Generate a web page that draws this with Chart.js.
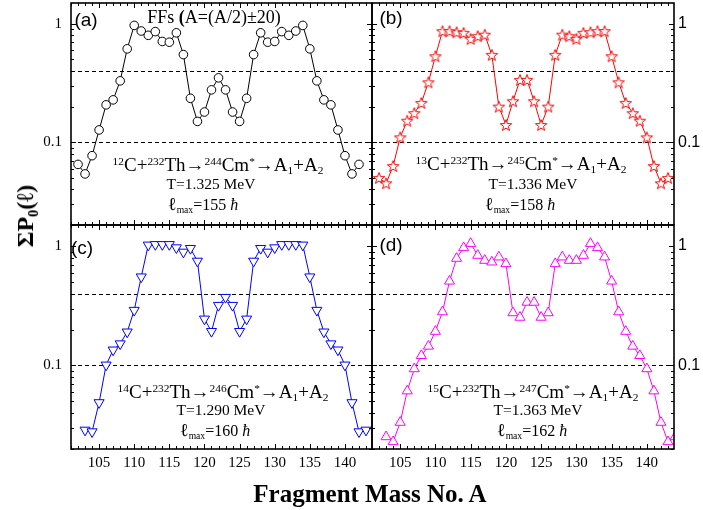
<!DOCTYPE html>
<html>
<head>
<meta charset="utf-8">
<script src="https://cdn.jsdelivr.net/npm/chart.js@4.4.1/dist/chart.umd.min.js"></script>
<style>
  body { margin: 0; background: #fff; }
  #wrap { position: relative; width: 703px; height: 510px; overflow: hidden; background: #fff; font-family: "Liberation Serif", serif; color: #000; }
  canvas { position: absolute; left: 0; top: 0; }
  .t { position: absolute; white-space: nowrap; transform: translate(-50%, -50%); line-height: 1; }
  .t sup { font-size: 0.6em; vertical-align: 0.5em; line-height: 0; }
  .t sub { font-size: 0.6em; vertical-align: -0.35em; line-height: 0; }
  .tag { font-family: "Liberation Sans", sans-serif; font-size: 19px; }
  .react { font-size: 19px; }
  .temp { font-size: 15.5px; }
  .lmax { font-size: 16px; }
  .lmax .ell { font-size: 1.15em; }
  .ytitle { font-size: 24px; font-weight: bold; transform: translate(-50%, -50%) rotate(-90deg); }
  .xtitle { font-size: 25px; font-weight: bold; }
  .note { font-size: 18px; }
</style>
</head>
<body>
<div id="wrap">
  <canvas id="panel-a" width="703" height="510"></canvas>
  <canvas id="panel-b" width="703" height="510"></canvas>
  <canvas id="panel-c" width="703" height="510"></canvas>
  <canvas id="panel-d" width="703" height="510"></canvas>
</div>
<script>
// fragment masses and summed probabilities
const massA = [102, 103, 104, 105, 106, 107, 108, 109, 110, 111, 112, 113, 114, 115, 116, 117, 118, 119, 120, 121, 122,
  123, 124, 125, 126, 127, 128, 129, 130, 131, 132, 133, 134, 135, 136, 137, 138, 139, 140, 141, 142]
const valuesA = [0.065, 0.054, 0.077, 0.127, 0.207, 0.228, 0.33, 0.615, 0.97, 0.87, 0.80, 0.86, 0.71, 0.70, 0.84, 0.55,
  0.235, 0.15, 0.18, 0.277, 0.35, 0.277, 0.18, 0.15, 0.235, 0.55, 0.84, 0.70, 0.71, 0.86, 0.80, 0.87, 0.97, 0.615,
  0.33, 0.228, 0.207, 0.127, 0.077, 0.054, 0.065]

const massB = [102, 103, 104, 105, 106, 107, 108, 109, 110, 111, 112, 113, 114, 115, 116, 117, 118, 119, 120, 121, 122,
  123, 124, 125, 126, 127, 128, 129, 130, 131, 132, 133, 134, 135, 136, 137, 138, 139, 140, 141, 142, 143]
const valuesB = [0.050, 0.045, 0.063, 0.110, 0.152, 0.176, 0.215, 0.321, 0.533, 0.867, 0.867, 0.85, 0.84, 0.747, 0.787,
  0.81, 0.547, 0.20, 0.14, 0.222, 0.336, 0.336, 0.222, 0.14, 0.20, 0.547, 0.81, 0.787, 0.747, 0.84, 0.85, 0.867, 0.867,
  0.533, 0.321, 0.215, 0.176, 0.152, 0.110, 0.063, 0.045, 0.050]

const massC = [103, 104, 105, 106, 107, 108, 109, 110, 111, 112, 113, 114, 115, 116, 117, 118, 119, 120, 121, 122, 123,
  124, 125, 126, 127, 128, 129, 130, 131, 132, 133, 134, 135, 136, 137, 138, 139, 140, 141, 142, 143]
const valuesC = [0.0288, 0.0279, 0.0489, 0.101, 0.135, 0.152, 0.191, 0.290, 0.552, 1.02, 1.03, 1.03, 1.03, 0.968, 0.89,
  0.956, 0.748, 0.245, 0.193, 0.319, 0.372, 0.319, 0.193, 0.245, 0.748, 0.956, 0.89, 0.968, 1.03, 1.03, 1.03, 1.02,
  0.552, 0.290, 0.191, 0.152, 0.135, 0.101, 0.0489, 0.0279, 0.0288]

const massD = [103, 104, 105, 106, 107, 108, 109, 110, 111, 112, 113, 114, 115, 116, 117, 118, 119, 120, 121, 122, 123,
  124, 125, 126, 127, 128, 129, 130, 131, 132, 133, 134, 135, 136, 137, 138, 139, 140, 141, 142, 143, 144]
const valuesD = [0.0253, 0.0230, 0.0334, 0.0612, 0.0938, 0.121, 0.145, 0.193, 0.281, 0.508, 0.788, 0.968, 1.05, 0.835,
  0.758, 0.734, 0.809, 0.711, 0.276, 0.253, 0.338, 0.338, 0.253, 0.276, 0.711, 0.809, 0.758, 0.758, 0.835, 1.05, 0.968,
  0.809, 0.508, 0.281, 0.193, 0.145, 0.121, 0.0938, 0.0612, 0.0334, 0.0230, 0.0253]

// axes
const xMin = 101
const xMax = 143.85
const yMin = 0.02
const yMax = 1.5
const xTickLabels = [105, 110, 115, 120, 125, 130, 135, 140]
const yTickLabels = [0.1, 1]
const yMinorTicks = [0.02, 0.03, 0.04, 0.05, 0.06, 0.07, 0.08, 0.09, 0.2, 0.3, 0.4, 0.5, 0.6, 0.7, 0.8, 0.9]
const guideLevels = [0.1, 0.4]

// panel texts
const panelTags = ["(a)", "(b)", "(c)", "(d)"]
const projectiles = [12, 13, 14, 15]
const compounds = [244, 245, 246, 247]
const temperatures = ["1.325", "1.336", "1.290", "1.363"]
const lmaxValues = [155, 158, 160, 162]

// open five-point star for panel (b)
const starMarker = (() => {
  const c = document.createElement("canvas")
  c.width = 14
  c.height = 14
  const g = c.getContext("2d")
  g.beginPath()
  for (let k = 0; k < 10; k++) {
    const r = k % 2 ? 2.5 : 6
    const ang = -Math.PI / 2 + (k * Math.PI) / 5
    const px = 7 + r * Math.cos(ang)
    const py = 7.6 + r * Math.sin(ang)
    if (k) g.lineTo(px, py)
    else g.moveTo(px, py)
  }
  g.closePath()
  g.fillStyle = "#fff"
  g.fill()
  g.strokeStyle = "#ff0000"
  g.lineWidth = 1
  g.stroke()
  return c
})()

// box, inward ticks and dashed guide lines
const frame = {
  id: "frame",
  beforeDatasetsDraw(chart) {
    const {ctx, chartArea: a, scales: {y}} = chart
    ctx.save()
    ctx.strokeStyle = "#000"
    ctx.lineWidth = 1
    ctx.setLineDash([4, 3])
    for (const v of guideLevels) {
      const py = Math.round(y.getPixelForValue(v)) + 0.5
      ctx.beginPath()
      ctx.moveTo(a.left, py)
      ctx.lineTo(a.right, py)
      ctx.stroke()
    }
    ctx.restore()
  },
  afterDatasetsDraw(chart) {
    const {ctx, chartArea: a, scales: {x, y}} = chart
    ctx.save()
    ctx.strokeStyle = "#000"
    ctx.lineWidth = 1
    ctx.beginPath()
    for (let m = Math.ceil(x.min); m <= x.max; m++) {
      const px = Math.round(x.getPixelForValue(m)) + 0.5
      const len = xTickLabels.includes(m) ? 5 : 3
      ctx.moveTo(px, a.bottom)
      ctx.lineTo(px, a.bottom - len)
      ctx.moveTo(px, a.top)
      ctx.lineTo(px, a.top + len)
    }
    for (const v of [...yMinorTicks, ...yTickLabels]) {
      const py = Math.round(y.getPixelForValue(v)) + 0.5
      const len = yTickLabels.includes(v) ? 5 : 3
      ctx.moveTo(a.left, py)
      ctx.lineTo(a.left + len, py)
      ctx.moveTo(a.right, py)
      ctx.lineTo(a.right - len, py)
    }
    ctx.stroke()
    ctx.lineWidth = 1.6
    ctx.strokeRect(a.left, a.top, a.right - a.left, a.bottom - a.top)
    ctx.restore()
  },
}

const makePanel = (id, {masses, values, color, style, radius, rotation, col, row}) => {
  const left = col === 0
  const top = row === 0
  return new Chart(document.getElementById(id), {
    type: "line",
    data: {
      datasets: [
        {
          data: masses.map((m, i) => ({x: m, y: values[i]})),
          borderColor: color,
          borderWidth: 1,
          backgroundColor: "#fff",
          pointBackgroundColor: "#fff",
          pointBorderColor: color,
          pointBorderWidth: 1,
          pointStyle: style,
          pointRadius: radius,
          pointRotation: rotation,
          tension: 0,
          fill: false,
        },
      ],
    },
    options: {
      responsive: false,
      animation: false,
      events: [],
      layout: {
        autoPadding: false,
        padding: {left: left ? 0 : 372, right: left ? 331 : 0, top: top ? 3 : 225, bottom: top ? 285 : 0},
      },
      plugins: {legend: {display: false}, tooltip: {enabled: false}},
      scales: {
        x: {
          type: "linear",
          min: xMin,
          max: xMax,
          display: !top,
          afterBuildTicks: (s) => {
            s.ticks = xTickLabels.map((value) => ({value}))
          },
          afterFit: (s) => {
            if (!top) s.height = 61
            s.paddingLeft = 0
            s.paddingRight = 0
          },
          grid: {display: false, drawTicks: false},
          border: {display: false},
          ticks: {
            autoSkip: false,
            maxRotation: 0,
            padding: 5,
            color: "#000",
            font: {family: "Liberation Serif", size: 15},
            callback: (v) => String(v),
          },
        },
        y: {
          type: "logarithmic",
          position: left ? "left" : "right",
          min: yMin,
          max: yMax,
          afterBuildTicks: (s) => {
            s.ticks = yTickLabels.map((value) => ({value}))
          },
          afterFit: (s) => {
            s.width = left ? 71 : 29
            s.paddingTop = 0
            s.paddingBottom = 0
          },
          grid: {display: false, drawTicks: false},
          border: {display: false},
          ticks: {
            padding: left ? 9 : 4,
            color: "#000",
            font: left ? {family: "Liberation Serif", size: 15} : {family: "Liberation Sans", size: 16},
            callback: (v) => String(v),
          },
        },
      },
    },
    plugins: [frame],
  })
}

makePanel("panel-a", {masses: massA, values: valuesA, color: "#000000", style: "circle", radius: 4.3, rotation: 0, col: 0, row: 0})
makePanel("panel-b", {masses: massB, values: valuesB, color: "#ff0000", style: starMarker, radius: 5, rotation: 0, col: 1, row: 0})
makePanel("panel-c", {masses: massC, values: valuesC, color: "#0000ff", style: "triangle", radius: 5.8, rotation: 180, col: 0, row: 1})
makePanel("panel-d", {masses: massD, values: valuesD, color: "#ff00ff", style: "triangle", radius: 5.8, rotation: 0, col: 1, row: 1})

// text placement (page pixels)
const tagPos = [[86, 19], [391, 17], [82, 247], [391, 244]]
const reactPos = [[218, 164], [521, 163], [223, 391], [533, 391]]
const tempPos = [[211, 184], [533, 184], [221, 410], [538, 410]]
const lmaxPos = [[203, 204], [520, 204], [215, 430], [532, 430]]

const wrap = document.getElementById("wrap")
const addText = (cls, html, [x, y]) => {
  const d = document.createElement("div")
  d.className = "t " + cls
  d.style.left = x + "px"
  d.style.top = y + "px"
  d.innerHTML = html
  wrap.appendChild(d)
}

panelTags.forEach((tag, i) => {
  addText("tag", tag, tagPos[i])
  addText("react",
    `<sup>${projectiles[i]}</sup>C+<sup>232</sup>Th→<sup>${compounds[i]}</sup>Cm<sup>*</sup>→A<sub>1</sub>+A<sub>2</sub>`,
    reactPos[i])
  addText("temp", `T=${temperatures[i]} MeV`, tempPos[i])
  addText("lmax", `<span class="ell">ℓ</span><sub>max</sub>=${lmaxValues[i]} <i>ħ</i>`, lmaxPos[i])
})
addText("note", "FFs <b>(</b>A=(A/2)±20)", [214, 17])
addText("ytitle", "ΣP<sub>0</sub>(ℓ)", [25, 216])
addText("xtitle", "Fragment Mass No. A", [370, 493])
</script>
</body>
</html>
